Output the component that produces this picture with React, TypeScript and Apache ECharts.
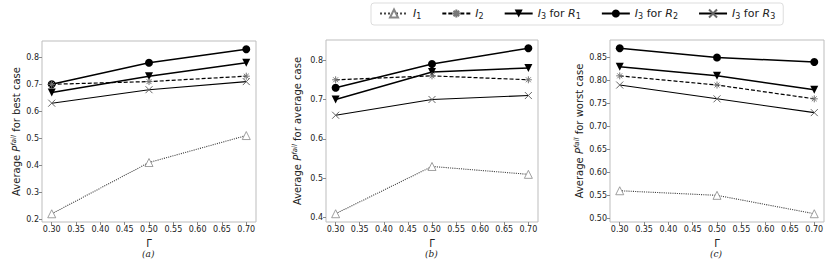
import React, { useEffect, useRef } from "react";
import * as echarts from "echarts";

const gammas = [0.3, 0.5, 0.7];
const xTicks = [0.3, 0.35, 0.4, 0.45, 0.5, 0.55, 0.6, 0.65, 0.7];

// Panel (a) best case
const bestI1 = [0.22, 0.41, 0.51];
const bestI2 = [0.7, 0.71, 0.73];
const bestR1 = [0.67, 0.73, 0.78];
const bestR2 = [0.7, 0.78, 0.83];
const bestR3 = [0.63, 0.68, 0.71];
const bestTicks = [0.2, 0.3, 0.4, 0.5, 0.6, 0.7, 0.8];

// Panel (b) average case
const avgI1 = [0.41, 0.53, 0.51];
const avgI2 = [0.75, 0.76, 0.75];
const avgR1 = [0.7, 0.77, 0.78];
const avgR2 = [0.73, 0.79, 0.83];
const avgR3 = [0.66, 0.7, 0.71];
const avgTicks = [0.4, 0.5, 0.6, 0.7, 0.8];

// Panel (c) worst case
const worstI1 = [0.56, 0.55, 0.51];
const worstI2 = [0.81, 0.79, 0.76];
const worstR1 = [0.83, 0.81, 0.78];
const worstR2 = [0.87, 0.85, 0.84];
const worstR3 = [0.79, 0.76, 0.73];
const worstTicks = [0.5, 0.55, 0.6, 0.65, 0.7, 0.75, 0.8, 0.85];

const seriesNames = ["I1", "I2", "I3R1", "I3R2", "I3R3"];
const legendLabels: Record<string, string> = {
  I1: "{i|I}{s|1}",
  I2: "{i|I}{s|2}",
  I3R1: "{i|I}{s|3}{t| for }{i|R}{s|1}",
  I3R2: "{i|I}{s|3}{t| for }{i|R}{s|2}",
  I3R3: "{i|I}{s|3}{t| for }{i|R}{s|3}",
};
const caseNames = ["best case", "average case", "worst case"];
const captions = ["(a)", "(b)", "(c)"];

const FONT = "DejaVu Sans";
const X_PATH = "path://M0,0L10,10M10,0L0,10";
const AST_PATH = "path://M5,0L5,10M0,5L10,5M1.5,1.5L8.5,8.5M8.5,1.5L1.5,8.5";

function pad(data: number[]) {
  const lo = Math.min(...data);
  const hi = Math.max(...data);
  const m = (hi - lo) * 0.05;
  return [lo - m, hi + m];
}

export default function App() {
  const ref = useRef<HTMLDivElement>(null);
  useEffect(() => {
    if (!ref.current) return;
    const chart = echarts.init(ref.current, null, { renderer: "svg" });
    const panels = [
      { d: [bestI1, bestI2, bestR1, bestR2, bestR3], ticks: bestTicks, dec: 1, grid: { left: 42, top: 41, width: 214, height: 181 }, gap: 19 },
      { d: [avgI1, avgI2, avgR1, avgR2, avgR3], ticks: avgTicks, dec: 1, grid: { left: 326, top: 40, width: 212, height: 182 }, gap: 22 },
      { d: [worstI1, worstI2, worstR1, worstR2, worstR3], ticks: worstTicks, dec: 2, grid: { left: 610, top: 40, width: 214, height: 182 }, gap: 24 },
    ];
    const grids: any[] = [];
    const xAxes: any[] = [];
    const yAxes: any[] = [];
    const series: any[] = [];
    panels.forEach((p, k) => {
      grids.push({ ...p.grid, show: true, borderColor: "#bdbdbd", borderWidth: 1, containLabel: false });
      xAxes.push({
        type: "value",
        gridIndex: k,
        min: 0.28,
        max: 0.72,
        name: "Γ",
        nameLocation: "middle",
        nameGap: 11,
        nameTextStyle: { fontFamily: FONT, fontSize: 10, color: "#222", lineHeight: 11 },
        axisLine: { show: false },
        splitLine: { show: false },
        axisTick: { show: true, length: 3, lineStyle: { color: "#888" }, customValues: xTicks },
        axisLabel: {
          fontFamily: FONT,
          fontSize: 8,
          color: "#222",
          margin: 3,
          customValues: xTicks,
          formatter: (v: number) => v.toFixed(2),
        },
      });
      const all = ([] as number[]).concat(...p.d);
      const [lo, hi] = pad(all);
      yAxes.push({
        type: "value",
        gridIndex: k,
        min: lo,
        max: hi,
        name: "{t|Average }{p|P}{s|fail}{t| for " + caseNames[k] + "}",
        nameLocation: "middle",
        nameGap: p.gap,
        nameTextStyle: {
          fontFamily: FONT,
          fontSize: 10,
          color: "#222",
          rich: {
            t: { fontFamily: FONT, fontSize: 10, color: "#222" },
            p: { fontFamily: FONT, fontSize: 10, fontStyle: "italic", color: "#222" },
            s: { fontFamily: FONT, fontSize: 7, fontStyle: "italic", color: "#222", padding: [0, 0, 6, 0] },
          },
        },
        axisLine: { show: false },
        splitLine: { show: false },
        axisTick: { show: true, length: 3, lineStyle: { color: "#888" }, customValues: p.ticks },
        axisLabel: {
          fontFamily: FONT,
          fontSize: 8,
          color: "#222",
          margin: 3,
          customValues: p.ticks,
          formatter: (v: number) => v.toFixed(p.dec),
        },
      });
      const styles = [
        { line: { type: "dotted", width: 1.1, color: "#444" }, symbol: "triangle", size: 8, item: { color: "#fff", borderColor: "#888", borderWidth: 0.8 }, rot: 0 },
        { line: { type: [4, 2], width: 1.2, color: "#000" }, symbol: AST_PATH, size: 7, item: { color: "#777", borderColor: "#777", borderWidth: 1 }, rot: 0 },
        { line: { type: "solid", width: 1.5, color: "#000" }, symbol: "triangle", size: 8, item: { color: "#000", borderColor: "#000", borderWidth: 0 }, rot: 180 },
        { line: { type: "solid", width: 1.5, color: "#000" }, symbol: "circle", size: 8, item: { color: "#000", borderColor: "#000", borderWidth: 0 }, rot: 0 },
        { line: { type: "solid", width: 1.1, color: "#000" }, symbol: X_PATH, size: 7, item: { color: "#666", borderColor: "#666", borderWidth: 1 }, rot: 0 },
      ];
      p.d.forEach((vals, j) => {
        const s = styles[j];
        series.push({
          type: "line",
          name: seriesNames[j],
          xAxisIndex: k,
          yAxisIndex: k,
          data: gammas.map((g, i) => [g, vals[i]]),
          symbol: s.symbol,
          symbolSize: s.size,
          symbolRotate: s.rot,
          showAllSymbol: true,
          lineStyle: s.line,
          itemStyle: s.item,
          z: 10 - j,
        });
      });
    });
    chart.setOption({
      animation: false,
      backgroundColor: "#fff",
      grid: grids,
      xAxis: xAxes,
      yAxis: yAxes,
      series,
      legend: {
        data: seriesNames,
        left: 371,
        top: 3,
        itemWidth: 28,
        itemHeight: 10,
        itemGap: 20,
        padding: [5, 8],
        borderColor: "#ddd",
        borderWidth: 1,
        borderRadius: 3,
        formatter: (n: string) => legendLabels[n],
        textStyle: {
          fontFamily: FONT,
          fontSize: 11,
          color: "#222",
          rich: {
            i: { fontFamily: FONT, fontSize: 11, fontStyle: "italic", color: "#222" },
            s: { fontFamily: FONT, fontSize: 8, color: "#222", padding: [5, 0, 0, 0] },
            t: { fontFamily: FONT, fontSize: 11, color: "#222" },
          },
        },
      },
      graphic: captions.map((c, k) => ({
        type: "text",
        left: [149, 432, 717][k] - 7,
        top: 249,
        style: { text: c, font: "italic 9px 'DejaVu Serif'", fill: "#222" },
      })),
    });
    return () => chart.dispose();
  }, []);
  return <div ref={ref} style={{ position: "fixed", left: 0, top: 0, width: 831, height: 263 }} />;
}
